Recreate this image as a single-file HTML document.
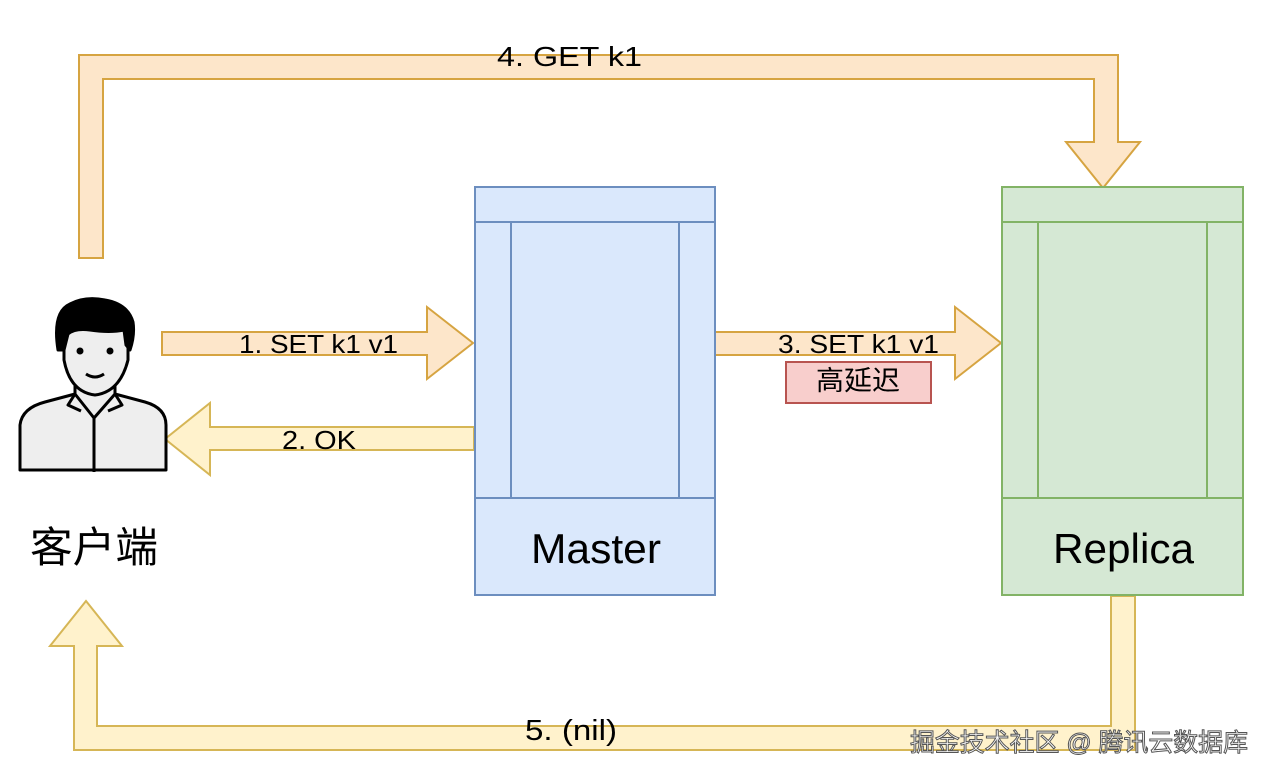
<!DOCTYPE html>
<html><head><meta charset="utf-8"><style>
html,body{margin:0;padding:0;background:#fff;width:1270px;height:778px;overflow:hidden}
text{font-family:"Liberation Sans","Noto Sans CJK SC",sans-serif}
</style></head><body>
<svg width="1270" height="778" viewBox="0 0 1270 778" xmlns="http://www.w3.org/2000/svg">
<g stroke-width="2" stroke-linejoin="miter">
<polygon points="79,258 79,55 1118,55 1118,142 1140,142 1103,188 1066,142 1094,142 1094,79 103,79 103,258" fill="#fde6ca" stroke="#d6a441"/>
<polygon points="162,332 427,332 427,307 473,343 427,379 427,355 162,355" fill="#fde6ca" stroke="#d6a441"/>
<polygon points="714,332 955,332 955,307 1001,343 955,379 955,355 714,355" fill="#fde6ca" stroke="#d6a441"/>
<polygon points="474,427 210,427 210,403 165,439 210,475 210,450 474,450" fill="#fff2cc" stroke="#d6b656"/>
<polygon points="1111,596 1135,596 1135,750 74,750 74,646 50,646 86,601 122,646 97,646 97,726 1111,726" fill="#fff2cc" stroke="#d6b656"/>
<rect x="475" y="187" width="240" height="408" fill="#dae8fc" stroke="#6c8ebf"/>
<line x1="475" y1="222" x2="715" y2="222" stroke="#6c8ebf"/>
<line x1="475" y1="498" x2="715" y2="498" stroke="#6c8ebf"/>
<line x1="511" y1="222" x2="511" y2="498" stroke="#6c8ebf"/>
<line x1="679" y1="222" x2="679" y2="498" stroke="#6c8ebf"/>
<rect x="1002" y="187" width="241" height="408" fill="#d5e8d4" stroke="#82b366"/>
<line x1="1002" y1="222" x2="1243" y2="222" stroke="#82b366"/>
<line x1="1002" y1="498" x2="1243" y2="498" stroke="#82b366"/>
<line x1="1038" y1="222" x2="1038" y2="498" stroke="#82b366"/>
<line x1="1207" y1="222" x2="1207" y2="498" stroke="#82b366"/>
<rect x="786" y="362" width="145" height="41" fill="#f8cecc" stroke="#b85450"/>
</g>
<g stroke="#000" stroke-width="3" stroke-linejoin="round" fill="#eee">
<path d="M20,470 L20,425 Q22,408 45,402 L75,394 L75,365 L115,365 L115,394 L145,402 Q166,408 166,425 L166,470 Z"/>
<path d="M75,394 L94,418 L115,394" fill="none"/>
<path d="M75,394 L68,405 L81,411" fill="none"/>
<path d="M115,394 L122,405 L108,411" fill="none"/>
<line x1="94" y1="418" x2="94" y2="472"/>
<path d="M64,325 L64,360 Q70,392 95,395 Q120,392 128,360 L128,325 Z"/>
<path d="M58,350 Q52,312 70,304 Q85,296 105,300 Q128,304 133,322 Q135,335 130,350 L126,345 L124,330 Q110,333 90,330 Q75,328 68,334 L64,350 Z" fill="#000"/>
</g>
<circle cx="80" cy="351" r="3.5" fill="#000"/>
<circle cx="110" cy="351" r="3.5" fill="#000"/>
<path d="M86,374 Q95,380 104,374" stroke="#000" stroke-width="3" fill="none"/>
<g fill="#000" font-size="28">
<text x="497" y="66" textLength="145" lengthAdjust="spacingAndGlyphs">4. GET k1</text>
<text x="239" y="353" font-size="26" textLength="159" lengthAdjust="spacingAndGlyphs">1. SET k1 v1</text>
<text x="282" y="449" font-size="26" textLength="74" lengthAdjust="spacingAndGlyphs">2. OK</text>
<text x="778" y="353" font-size="26" textLength="161" lengthAdjust="spacingAndGlyphs">3. SET k1 v1</text>
<text x="816" y="390" font-size="27" textLength="84" lengthAdjust="spacingAndGlyphs">高延迟</text>
<text x="525" y="740" font-size="29" textLength="92" lengthAdjust="spacingAndGlyphs">5. (nil)</text>
<text x="531" y="563" font-size="42" textLength="130" lengthAdjust="spacingAndGlyphs">Master</text>
<text x="1053" y="563" font-size="42" textLength="141" lengthAdjust="spacingAndGlyphs">Replica</text>
<text x="30" y="562" font-size="42" textLength="128" lengthAdjust="spacingAndGlyphs">客户端</text>
</g>
<text x="910" y="751" font-size="25" textLength="338" lengthAdjust="spacingAndGlyphs" fill="#fff" stroke="#555" stroke-width="1">掘金技术社区 @ 腾讯云数据库</text>
</svg>
</body></html>
